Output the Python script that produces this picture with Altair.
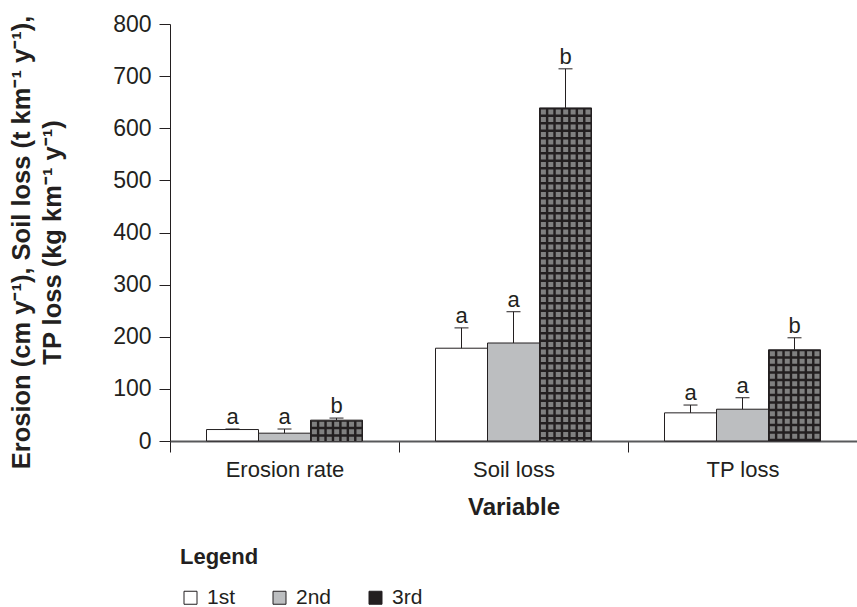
import json
import altair as alt
import pandas as pd

# ---- data ----
categories = ["Erosion rate", "Soil loss", "TP loss"]
series = ["1st", "2nd", "3rd"]
mean_1st = [22, 178, 54]
mean_2nd = [15, 188, 61]
mean_3rd = [40, 639, 175]
upper_1st = [23, 217, 69]
upper_2nd = [23, 248, 83]
upper_3rd = [44, 714, 198]
letters_1st = ["a", "a", "a"]
letters_2nd = ["a", "a", "a"]
letters_3rd = ["b", "b", "b"]
y_ticks = [0, 100, 200, 300, 400, 500, 600, 700, 800]

# ---- layout / style ----
W, H = 687, 417
PX = W / len(categories)          # pixels per category unit
BAR_W = 52 / PX                   # bar width in category units
FONT = "Liberation Sans"
INK = "#231f20"
fills = ["#ffffff", "#bcbec0", "#231f20"]

means = [mean_1st, mean_2nd, mean_3rd]
uppers = [upper_1st, upper_2nd, upper_3rd]
letters = [letters_1st, letters_2nd, letters_3rd]

rows = []
for i, cat in enumerate(categories):
    for k, s in enumerate(series):
        c = i + 0.5 + (k - 1) * BAR_W
        rows.append(dict(category=cat, series=s, x=c - BAR_W / 2, x2=c + BAR_W / 2,
                         xc=c, value=means[k][i], err=uppers[k][i], letter=letters[k][i]))
df = pd.DataFrame(rows)

# checker pattern columns inside the 3rd bars
pat = []
for r in rows:
    if r["series"] == series[2]:
        for j in range(7):
            pat.append(dict(xp=r["x"] + (3.9 + 7.43 * j) / PX, value=r["value"]))
pat_df = pd.DataFrame(pat)

x_scale = alt.Scale(domain=[0, len(categories)], nice=False, zero=False)
y_scale = alt.Scale(domain=[0, 800], nice=False)

label_expr = "(" + json.dumps(categories).replace('"', "'") + ")[datum.value] || ''"

x_axis = alt.Axis(
    values=list(range(len(categories) + 1)), labelExpr=label_expr, labelOffset=PX / 2,
    labelAlign="center", labelFlush=False, labelOverlap=False, labelBaseline="alphabetic",
    labelPadding=24, labelFont=FONT, labelFontSize=22, labelColor=INK,
    tickSize=11, tickColor=INK, domainColor="#58595b", domainWidth=2, grid=False,
    title="Variable", titleFont=FONT, titleFontSize=24, titleFontWeight="bold",
    titleColor=INK, titleBaseline="alphabetic", titleY=73,
)
y_axis = alt.Axis(
    values=y_ticks, labelFont=FONT, labelFontSize=23, labelColor=INK, labelPadding=8,
    tickSize=11, tickColor=INK, domainColor=INK, domainWidth=1, grid=False,
    title=["Erosion (cm y\u207b\u00b9), Soil loss (t km\u207b\u00b9 y\u207b\u00b9),",
           "TP loss (kg km\u207b\u00b9 y\u207b\u00b9)"],
    titleFont=FONT, titleFontSize=25.5, titleFontWeight="bold", titleColor=INK,
    titleAngle=270, titleAlign="center", titleBaseline="alphabetic",
    titleX=-141, titleY=218, titleLineHeight=31,
)

legend = alt.Legend(
    title="Legend", orient="none", legendX=10, legendY=523, direction="horizontal",
    titleFont=FONT, titleFontSize=22, titleFontWeight="bold", titleColor=INK,
    titleAnchor="start", titlePadding=18, labelFont=FONT, labelFontSize=21,
    labelColor=INK, symbolType="square", symbolSize=169, symbolStrokeColor=INK,
    symbolStrokeWidth=1, columnPadding=33, labelOffset=6, padding=0,
)

bars = alt.Chart(df).mark_bar(stroke=INK, strokeWidth=1, opacity=1).encode(
    x=alt.X("x:Q", scale=x_scale, axis=x_axis),
    x2="x2:Q",
    y=alt.Y("value:Q", scale=y_scale, axis=y_axis),
    y2=alt.datum(0),
    color=alt.Color("series:N", scale=alt.Scale(domain=series, range=fills), legend=legend),
)

pattern = alt.Chart(pat_df).mark_rule(
    color="#808080", strokeWidth=5, strokeDash=[5, 2.5], strokeDashOffset=6
).encode(x=alt.X("xp:Q", scale=x_scale), y=alt.Y("value:Q", scale=y_scale), y2=alt.datum(0))

err_rules = alt.Chart(df).mark_rule(color=INK, strokeWidth=1).encode(
    x=alt.X("xc:Q", scale=x_scale), y=alt.Y("value:Q", scale=y_scale), y2="err:Q")

caps = alt.Chart(df).mark_tick(orient="horizontal", size=14, thickness=1, color=INK, opacity=1).encode(
    x=alt.X("xc:Q", scale=x_scale), y=alt.Y("err:Q", scale=y_scale))

texts = alt.Chart(df).mark_text(font=FONT, fontSize=22, color=INK, baseline="alphabetic", dy=-5).encode(
    x=alt.X("xc:Q", scale=x_scale), y=alt.Y("err:Q", scale=y_scale), text="letter:N")

chart = alt.layer(bars, pattern, err_rules, caps, texts).properties(
    width=W, height=H,
    autosize=alt.AutoSizeParams(type="none"),
    padding={"left": 170, "top": 24, "right": 0, "bottom": 166},
).configure_view(stroke=None)

chart.save("out.html", embed_options={"renderer": "svg", "actions": False})
